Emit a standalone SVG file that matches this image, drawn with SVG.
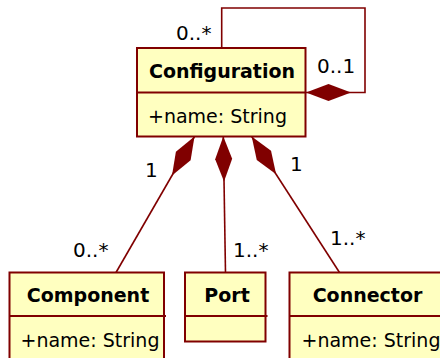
<svg xmlns="http://www.w3.org/2000/svg" width="440" height="358" viewBox="0 0 440 358">
<style>
.box{fill:#FFFFC0;stroke:#800000;stroke-width:2}
.div{stroke:#800000;stroke-width:2;fill:none}
.conn{stroke:#800000;stroke-width:1.6;fill:none}
.title{font-family:"DejaVu Sans",Verdana,sans-serif;font-weight:bold;font-size:19px;fill:#000}
.attr{font-family:"DejaVu Sans",Verdana,sans-serif;font-size:19px;fill:#000}
.mult{font-family:"DejaVu Sans",Verdana,sans-serif;font-size:20px;fill:#000}
</style>
<defs>
<marker id="diamond" markerUnits="userSpaceOnUse" markerWidth="48" markerHeight="20" viewBox="0 -10 48 20" refX="0" refY="0" orient="auto" overflow="visible">
<path d="M0,0 L22.5,-8.5 L45,0 L22.5,8.5 Z" fill="#800000" stroke="none"/>
</marker>
</defs>
<rect width="440" height="358" fill="#fff"/>
<g id="connectors">
<path class="conn" d="M306,92.5 L365,92.5 L365,8 L221.7,8 L221.7,48" marker-start="url(#diamond)"/>
<path class="conn" d="M194.5,136.5 L116,272.5" marker-start="url(#diamond)"/>
<path class="conn" d="M223.3,136.5 L225.5,272.5" marker-start="url(#diamond)"/>
<path class="conn" d="M251.7,136.5 L339.5,272.5" marker-start="url(#diamond)"/>
<text class="mult" x="176" y="40">0..*</text>
<text class="mult" x="317" y="73">0..1</text>
<text class="mult" x="145" y="177">1</text>
<text class="mult" x="73" y="257">0..*</text>
<text class="mult" x="233" y="257">1..*</text>
<text class="mult" x="290" y="171">1</text>
<text class="mult" x="330" y="245">1..*</text>
</g>
<g id="Configuration">
<rect class="box" x="137" y="48" width="168.5" height="88.5"/>
<line class="div" x1="137" y1="92.5" x2="305.5" y2="92.5"/>
<text class="title" x="222" y="78" text-anchor="middle">Configuration</text>
<text class="attr" x="148" y="123">+name: String</text>
</g>
<g id="Component">
<rect class="box" x="9.5" y="272.5" width="154.5" height="100"/>
<line class="div" x1="9.5" y1="316" x2="166" y2="316"/>
<text class="title" x="88" y="302" text-anchor="middle">Component</text>
<text class="attr" x="20.5" y="347">+name: String</text>
</g>
<g id="Port">
<rect class="box" x="185" y="272.5" width="80.5" height="69"/>
<line class="div" x1="185" y1="316" x2="267.5" y2="316"/>
<text class="title" x="227" y="302" text-anchor="middle">Port</text>
</g>
<g id="Connector">
<rect class="box" x="289.5" y="272.5" width="170" height="100"/>
<line class="div" x1="289.5" y1="316" x2="459.5" y2="316"/>
<text class="title" x="367.5" y="302" text-anchor="middle">Connector</text>
<text class="attr" x="301.5" y="347">+name: String</text>
</g>
</svg>
